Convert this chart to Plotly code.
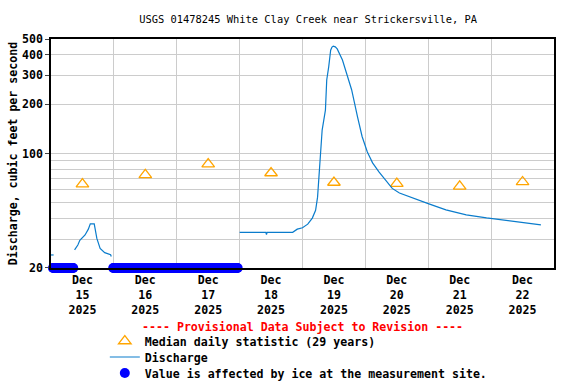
import math
import pandas as pd
import plotly.graph_objects as go

FONT = "DejaVu Sans Mono"

# discharge, cubic feet per second
q1_time = ["2025-12-15 00:00", "2025-12-15 01:00"]
q1_flow = [24, 24]

q2_time = ["2025-12-15 09:00", "2025-12-15 10:15", "2025-12-15 11:00", "2025-12-15 13:00",
           "2025-12-15 14:15", "2025-12-15 15:00", "2025-12-15 16:30", "2025-12-15 17:30",
           "2025-12-15 18:45", "2025-12-15 20:30", "2025-12-15 22:45", "2025-12-15 23:00"]
q2_flow = [25.8, 27.6, 29.5, 31.8, 34.5, 37.2, 37.2, 30.3, 26.3, 24.8, 24.1, 23.5]

q3_time = ["2025-12-18 00:00", "2025-12-18 10:00", "2025-12-18 10:15", "2025-12-18 10:30",
           "2025-12-18 20:15", "2025-12-18 22:00", "2025-12-19 00:00", "2025-12-19 02:00",
           "2025-12-19 03:45", "2025-12-19 05:00", "2025-12-19 05:45", "2025-12-19 06:30",
           "2025-12-19 07:00", "2025-12-19 07:30", "2025-12-19 08:45", "2025-12-19 09:15",
           "2025-12-19 10:00", "2025-12-19 10:45", "2025-12-19 11:15", "2025-12-19 11:45",
           "2025-12-19 12:30", "2025-12-19 13:15", "2025-12-19 15:15", "2025-12-19 16:45",
           "2025-12-19 18:45", "2025-12-19 21:00", "2025-12-19 22:45", "2025-12-20 00:45",
           "2025-12-20 02:45", "2025-12-20 05:15", "2025-12-20 08:00", "2025-12-20 10:15",
           "2025-12-20 13:00", "2025-12-20 18:00", "2025-12-21 00:15", "2025-12-21 06:45",
           "2025-12-21 14:30", "2025-12-21 22:15", "2025-12-22 05:45", "2025-12-22 13:15",
           "2025-12-22 19:00"]
q3_flow = [33.0, 33.0, 32.0, 33.0, 33.0, 34.5, 35.2, 37.0, 40.3, 45, 54.1, 79,
           101, 139, 184, 281, 338, 427, 446, 452, 448, 435, 372, 309,
           245, 167, 127, 102, 87.6, 77, 67.5, 61.2, 57.4, 53.4, 49.2, 45.2,
           42.2, 40.4, 38.9, 37.7, 36.6]

# median daily statistic (29 years)
median_time = ["2025-12-15 12:00", "2025-12-16 12:00", "2025-12-17 12:00", "2025-12-18 12:00",
               "2025-12-19 12:00", "2025-12-20 12:00", "2025-12-21 12:00", "2025-12-22 12:00"]
median_flow = [65, 74, 86, 76, 66.5, 65.5, 63, 67]

# periods flagged as ice affected (15-minute readings)
ice_start = ["2025-12-15 00:45", "2025-12-15 23:45"]
ice_end = ["2025-12-15 08:30", "2025-12-17 23:15"]
ice_flow = 20

day_labels = ["Dec<br>15<br>2025", "Dec<br>16<br>2025", "Dec<br>17<br>2025", "Dec<br>18<br>2025",
              "Dec<br>19<br>2025", "Dec<br>20<br>2025", "Dec<br>21<br>2025", "Dec<br>22<br>2025"]

y_ticks = [20, 100, 200, 300, 400, 500]
y_grid = [30, 40, 50, 60, 70, 80, 90]

q_time = q1_time + [None] + q2_time + [None] + q3_time
q_flow = q1_flow + [None] + q2_flow + [None] + q3_flow

ice_time = []
for s, e in zip(ice_start, ice_end):
    ice_time += list(pd.date_range(s, e, freq="15min"))

fig = go.Figure()

fig.add_trace(go.Scatter(x=median_time, y=median_flow, mode="markers",
                         name="Median daily statistic (29 years)", legend="legend",
                         marker=dict(symbol="triangle-up-open", size=11, color="#ffa500",
                                     line=dict(width=1.3))))
fig.add_trace(go.Scatter(x=q_time, y=q_flow, mode="lines", name="Discharge", legend="legend2",
                         line=dict(color="#0a7ccc", width=1.2), connectgaps=False))
fig.add_trace(go.Scatter(x=ice_time, y=[ice_flow] * len(ice_time), mode="markers",
                         name="Value is affected by ice at the measurement site.", legend="legend3",
                         marker=dict(color="#0000ff", size=10), cliponaxis=False))

leg = dict(x=0.107, xanchor="left", yanchor="middle", bgcolor="rgba(0,0,0,0)",
           font=dict(family=FONT, size=11.6, weight="bold"), itemwidth=30)

fig.update_layout(
    width=576, height=384,
    margin=dict(l=51, r=22, t=39, b=116, autoexpand=False),
    plot_bgcolor="white", paper_bgcolor="white",
    font=dict(family=FONT, size=11.6, color="black"),
    title=dict(text="USGS 01478245 White Clay Creek near Strickersville, PA",
               x=0.535, xanchor="center", y=0.95, yanchor="middle",
               font=dict(family=FONT, size=10.4, color="black")),
    showlegend=True,
    legend=dict(leg, y=-0.3188),
    legend2=dict(leg, y=-0.3886),
    legend3=dict(leg, y=-0.4585),
    annotations=[dict(text="---- Provisional Data Subject to Revision ----",
                      xref="paper", yref="paper", x=0.5, y=-0.258, showarrow=False,
                      xanchor="center", yanchor="middle",
                      font=dict(family=FONT, size=11.6, color="red", weight="bold"))],
)

fig.update_xaxes(
    range=["2025-12-15 00:00", "2025-12-23 00:00"], automargin=False,
    tickmode="array", tickvals=median_time, ticktext=day_labels,
    showgrid=False, ticks="", tickfont=dict(weight="bold"),
    showline=True, linecolor="black", linewidth=1.5, mirror=True,
    minor=dict(tick0="2025-12-15", dtick=86400000, showgrid=True, gridcolor="#cccccc", gridwidth=1),
)
fig.update_yaxes(
    type="log", range=[math.log10(19.98), math.log10(500)], automargin=False,
    tickmode="array", tickvals=y_ticks, ticktext=[str(v) for v in y_ticks],
    showgrid=True, gridcolor="#cccccc", gridwidth=1, ticks="outside", ticklen=4,
    tickfont=dict(weight="bold"),
    showline=True, linecolor="black", linewidth=1.5, mirror=True,
    minor=dict(tickmode="array", tickvals=y_grid, showgrid=True, gridcolor="#cccccc", gridwidth=1),
    title=dict(text="Discharge, cubic feet per second", standoff=2,
               font=dict(family=FONT, size=11.6, weight="bold")),
)

# the page's default body margin would shift the whole figure
fig.write_html("out.html", config={"displayModeBar": False},
               post_script="document.body.style.margin='0';")
